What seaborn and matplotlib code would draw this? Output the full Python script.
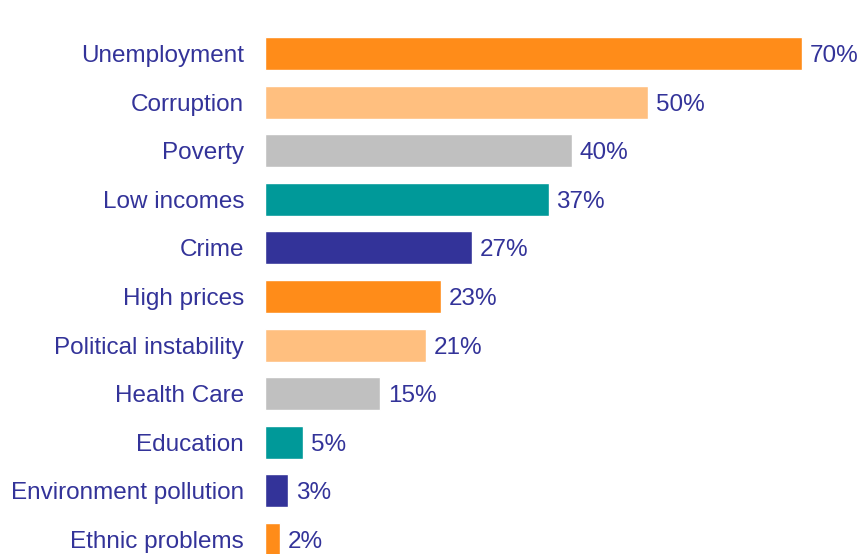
"""Horizontal bar chart: most pressing problems (share of respondents)."""

import matplotlib

matplotlib.use("Agg")

import matplotlib.pyplot as plt
import pandas as pd
import seaborn as sns

categories = [
    "Unemployment",
    "Corruption",
    "Poverty",
    "Low incomes",
    "Crime",
    "High prices",
    "Political instability",
    "Health Care",
    "Education",
    "Environment pollution",
    "Ethnic problems",
]
values = [70, 50, 40, 37, 27, 23, 21, 15, 5, 3, 2]
bar_colors = [
    "#FF8C19", "#FFBF7F", "#C0C0C0", "#009999", "#333399",
    "#FF8C19", "#FFBF7F", "#C0C0C0", "#009999", "#333399",
    "#FF8C19",
]
TEXT = "#333399"
FONT_SIZE = 17.5

sns.set_theme(style="white")
plt.rcParams["font.family"] = ["Liberation Sans", "DejaVu Sans"]

df = pd.DataFrame({"problem": categories, "share": values})

fig = plt.figure(figsize=(8.63, 5.54), dpi=100)
ax = fig.add_axes([265 / 863, 0, 1 - 265 / 863, 1])

sns.barplot(
    data=df, x="share", y="problem", hue="problem", palette=bar_colors,
    order=categories, hue_order=categories, width=0.68, legend=False,
    saturation=1, ax=ax,
)

for i, v in enumerate(values):
    ax.text(v + 1.0, i, f"{v}%", va="center_baseline", ha="left",
            fontsize=FONT_SIZE, color=TEXT)

ax.set_xlim(0, 78)
ax.set_ylim(10.30, -1.10)
ax.set_xlabel("")
ax.set_ylabel("")
ax.set_xticks([])
ax.tick_params(axis="y", length=0, pad=15, labelsize=FONT_SIZE, labelcolor=TEXT)
sns.despine(ax=ax, left=True, bottom=True)

fig.savefig("out.png", dpi=100)
